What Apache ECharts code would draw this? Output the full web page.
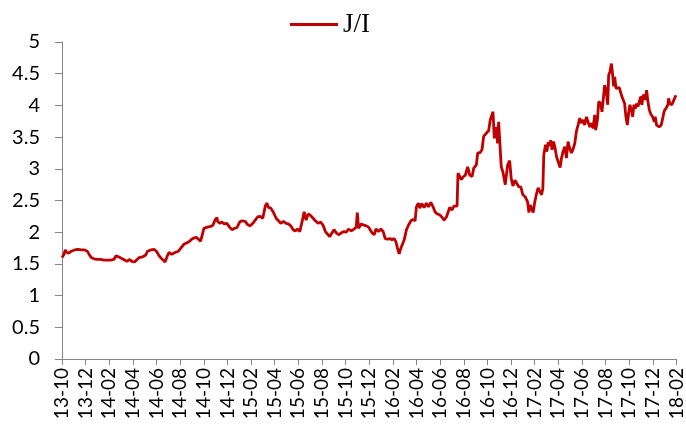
<!DOCTYPE html>
<html>
<head>
<meta charset="utf-8">
<script src="https://cdn.jsdelivr.net/npm/echarts@6/dist/echarts.min.js"></script>
<style>
  html, body { margin: 0; padding: 0; background: #fff; }
  #main { width: 686px; height: 435px; }
</style>
</head>
<body>
<div id="main"></div>
<script>
// x = months since the first tick (13-10)
const monthPos = [
  0, 0.17, 0.28, 0.40, 0.57, 0.79, 1.07, 1.35, 1.63, 1.92, 2.14, 2.30, 2.47, 2.70, 2.98, 3.27, 3.55, 3.82, 4.11, 4.39,
  4.58, 4.73, 4.90, 5.06, 5.29, 5.51, 5.72, 5.91, 6.14, 6.25, 6.53, 6.81, 7.09, 7.23, 7.51, 7.79, 7.99, 8.21, 8.44, 8.72,
  8.92, 9.06, 9.29, 9.56, 9.85, 10.05, 10.32, 10.53, 10.75, 10.97, 11.17, 11.37, 11.54, 11.73, 12.01, 12.30, 12.58, 12.77, 12.94, 13.11,
  13.17, 13.34, 13.53, 13.73, 13.95, 14.18, 14.38, 14.58, 14.80, 15.03, 15.22, 15.51, 15.70, 15.93, 16.15, 16.35, 16.55, 16.77, 16.99, 17.20,
  17.33, 17.47, 17.67, 17.90, 18.12, 18.32, 18.51, 18.74, 18.97, 19.16, 19.36, 19.56, 19.75, 19.92, 20.12, 20.32, 20.49, 20.66, 20.83, 21.05,
  21.25, 21.44, 21.67, 21.89, 22.09, 22.29, 22.45, 22.65, 22.85, 23.02, 23.21, 23.41, 23.64, 23.86, 24.06, 24.25, 24.48, 24.71, 24.90, 24.99,
  25.10, 25.32, 25.55, 25.75, 25.94, 26.23, 26.42, 26.57, 26.79, 26.99, 27.18, 27.35, 27.55, 27.75, 27.92, 28.11, 28.25, 28.39, 28.53, 28.68,
  28.81, 28.96, 29.15, 29.32, 29.52, 29.71, 29.88, 29.99, 30.16, 30.28, 30.45, 30.64, 30.84, 31.01, 31.21, 31.40, 31.57, 31.74, 31.97, 32.14,
  32.33, 32.53, 32.69, 32.81, 33.01, 33.15, 33.29, 33.43, 33.51, 33.66, 33.77, 33.94, 34.13, 34.33, 34.50, 34.70, 34.84, 35.06, 35.18, 35.35,
  35.54, 35.68, 35.90, 36.10, 36.24, 36.38, 36.47, 36.58, 36.75, 36.86, 36.95, 37.08, 37.17, 37.31, 37.51, 37.71, 37.88, 38.01, 38.16, 38.33,
  38.49, 38.64, 38.83, 39.00, 39.19, 39.31, 39.40, 39.51, 39.62, 39.73, 39.87, 40.01, 40.16, 40.29, 40.44, 40.58, 40.69, 40.77, 40.92, 41.03,
  41.14, 41.28, 41.36, 41.47, 41.59, 41.70, 41.85, 41.98, 42.15, 42.27, 42.40, 42.55, 42.69, 42.82, 42.97, 43.11, 43.25, 43.39, 43.53, 43.67,
  43.81, 43.95, 44.09, 44.23, 44.38, 44.51, 44.66, 44.77, 44.94, 45.08, 45.16, 45.31, 45.42, 45.59, 45.69, 45.81, 45.92, 46.03, 46.18, 46.26,
  46.37, 46.49, 46.60, 46.68, 46.77, 46.88, 47.02, 47.16, 47.30, 47.38, 47.50, 47.61, 47.72, 47.84, 47.95, 48.06, 48.18, 48.29, 48.40, 48.51,
  48.62, 48.74, 48.85, 48.99, 49.07, 49.19, 49.36, 49.47, 49.58, 49.70, 49.83, 49.98, 50.12, 50.20, 50.31, 50.42, 50.54, 50.71, 50.82, 50.96,
  51.10, 51.27, 51.33, 51.44, 51.61, 51.72, 51.83, 51.95
];
const jiRatio = [
  1.60, 1.65, 1.72, 1.68, 1.67, 1.70, 1.72, 1.73, 1.72, 1.72, 1.70, 1.65, 1.60, 1.58, 1.57, 1.57, 1.56, 1.56, 1.56, 1.57,
  1.63, 1.64, 1.60, 1.57, 1.56, 1.54, 1.57, 1.54, 1.53, 1.53, 1.60, 1.61, 1.64, 1.70, 1.72, 1.73, 1.70, 1.63, 1.58, 1.53,
  1.63, 1.68, 1.65, 1.68, 1.70, 1.75, 1.81, 1.83, 1.85, 1.89, 1.91, 1.92, 1.89, 1.86, 2.06, 2.08, 2.09, 2.11, 2.19, 2.23,
  2.17, 2.14, 2.16, 2.13, 2.14, 2.08, 2.04, 2.06, 2.07, 2.16, 2.18, 2.17, 2.12, 2.10, 2.14, 2.19, 2.24, 2.25, 2.22, 2.41,
  2.46, 2.39, 2.38, 2.31, 2.22, 2.18, 2.14, 2.17, 2.14, 2.13, 2.10, 2.04, 2.02, 2.05, 2.01, 2.17, 2.32, 2.19, 2.29, 2.26,
  2.22, 2.18, 2.14, 2.16, 2.11, 2.01, 1.98, 1.93, 1.99, 2.04, 1.99, 1.96, 1.99, 2.01, 2.00, 2.05, 2.02, 2.05, 2.08, 2.31,
  2.06, 2.13, 2.11, 2.10, 2.08, 1.99, 1.96, 2.05, 2.01, 2.05, 2.01, 1.90, 1.89, 1.90, 1.88, 1.90, 1.85, 1.75, 1.66, 1.75,
  1.73, 1.88, 2.04, 2.11, 2.18, 2.20, 2.18, 2.40, 2.46, 2.38, 2.45, 2.39, 2.46, 2.40, 2.47, 2.40, 2.32, 2.29, 2.27, 2.24,
  2.19, 2.24, 2.25, 2.39, 2.35, 2.41, 2.38, 2.41, 2.93, 2.88, 2.83, 2.87, 2.90, 3.03, 2.90, 2.88, 3.01, 3.06, 3.25, 3.25,
  3.30, 3.51, 3.56, 3.60, 3.77, 3.85, 3.90, 3.48, 3.66, 3.40, 3.74, 3.76, 3.03, 2.95, 2.75, 3.06, 3.13, 2.85, 2.73, 2.82,
  2.85, 2.72, 2.71, 2.59, 2.56, 2.56, 2.48, 2.31, 2.43, 2.40, 2.31, 2.48, 2.61, 2.70, 2.72, 2.59, 2.69, 3.22, 3.38, 3.27,
  3.42, 3.36, 3.45, 3.30, 3.43, 3.35, 3.19, 3.17, 3.02, 3.17, 3.27, 3.35, 3.17, 3.43, 3.32, 3.25, 3.31, 3.40, 3.59, 3.69,
  3.80, 3.72, 3.77, 3.69, 3.82, 3.80, 3.66, 3.72, 3.64, 3.85, 3.61, 3.77, 4.06, 4.03, 3.90, 4.11, 4.32, 4.25, 4.01, 4.48,
  4.53, 4.66, 4.48, 4.30, 4.45, 4.27, 4.30, 4.28, 4.27, 4.14, 4.16, 4.03, 3.82, 3.69, 3.88, 4.01, 3.93, 3.82, 4.01, 3.95,
  4.03, 3.98, 4.06, 4.14, 4.01, 4.17, 4.09, 4.24, 4.06, 3.93, 3.86, 3.82, 3.74, 3.82, 3.69, 3.72, 3.66, 3.69, 3.68, 3.91,
  3.95, 4.01, 4.11, 4.03, 4.01, 4.06, 4.09, 4.16
];
const seriesName = 'J/I';
const startYear = 13, startMonth = 10;   // 第一个刻度 13-10
const monthSpan = 52;                     // 到 18-02

function monthLabel(v) {
  const k = startMonth - 1 + Math.round(v);
  const yy = startYear + Math.floor(k / 12);
  const mm = (k % 12) + 1;
  return yy + '-' + (mm < 10 ? '0' + mm : mm);
}

const lineData = monthPos.map((m, i) => [m, jiRatio[i]]);

const myChart = echarts.init(document.getElementById('main'));
const axisGray = '#868686';
const option = {
  animation: false,
  legend: {
    top: 6,
    left: 285,
    icon: 'rect',
    itemWidth: 48,
    itemHeight: 3,
    itemGap: 2,
    textStyle: { fontFamily: 'Liberation Serif', fontSize: 27, color: '#000' },
    data: [seriesName]
  },
  grid: { left: 62, right: 8, top: 42, bottom: 76, containLabel: false },
  xAxis: {
    type: 'value',
    min: 0,
    max: monthSpan,
    interval: 2,
    axisLine: { lineStyle: { color: axisGray, width: 1 } },
    axisTick: { show: true, length: 6, lineStyle: { color: axisGray } },
    splitLine: { show: false },
    axisLabel: {
      rotate: 90,
      margin: 9,
      fontFamily: 'Lato',
      fontSize: 19,
      color: '#000',
      formatter: monthLabel
    }
  },
  yAxis: {
    type: 'value',
    min: 0,
    max: 5,
    interval: 0.5,
    axisLine: { show: true, lineStyle: { color: axisGray, width: 1 } },
    axisTick: { show: true, length: 7, lineStyle: { color: axisGray } },
    splitLine: { show: false },
    axisLabel: { margin: 22, fontFamily: 'Lato', fontSize: 20, color: '#000' }
  },
  series: [{
    name: seriesName,
    type: 'line',
    data: lineData,
    symbol: 'none',
    lineStyle: { width: 2.8, color: '#c00000' },
    itemStyle: { color: '#c00000' }
  }]
};
myChart.setOption(option);
</script>
</body>
</html>
